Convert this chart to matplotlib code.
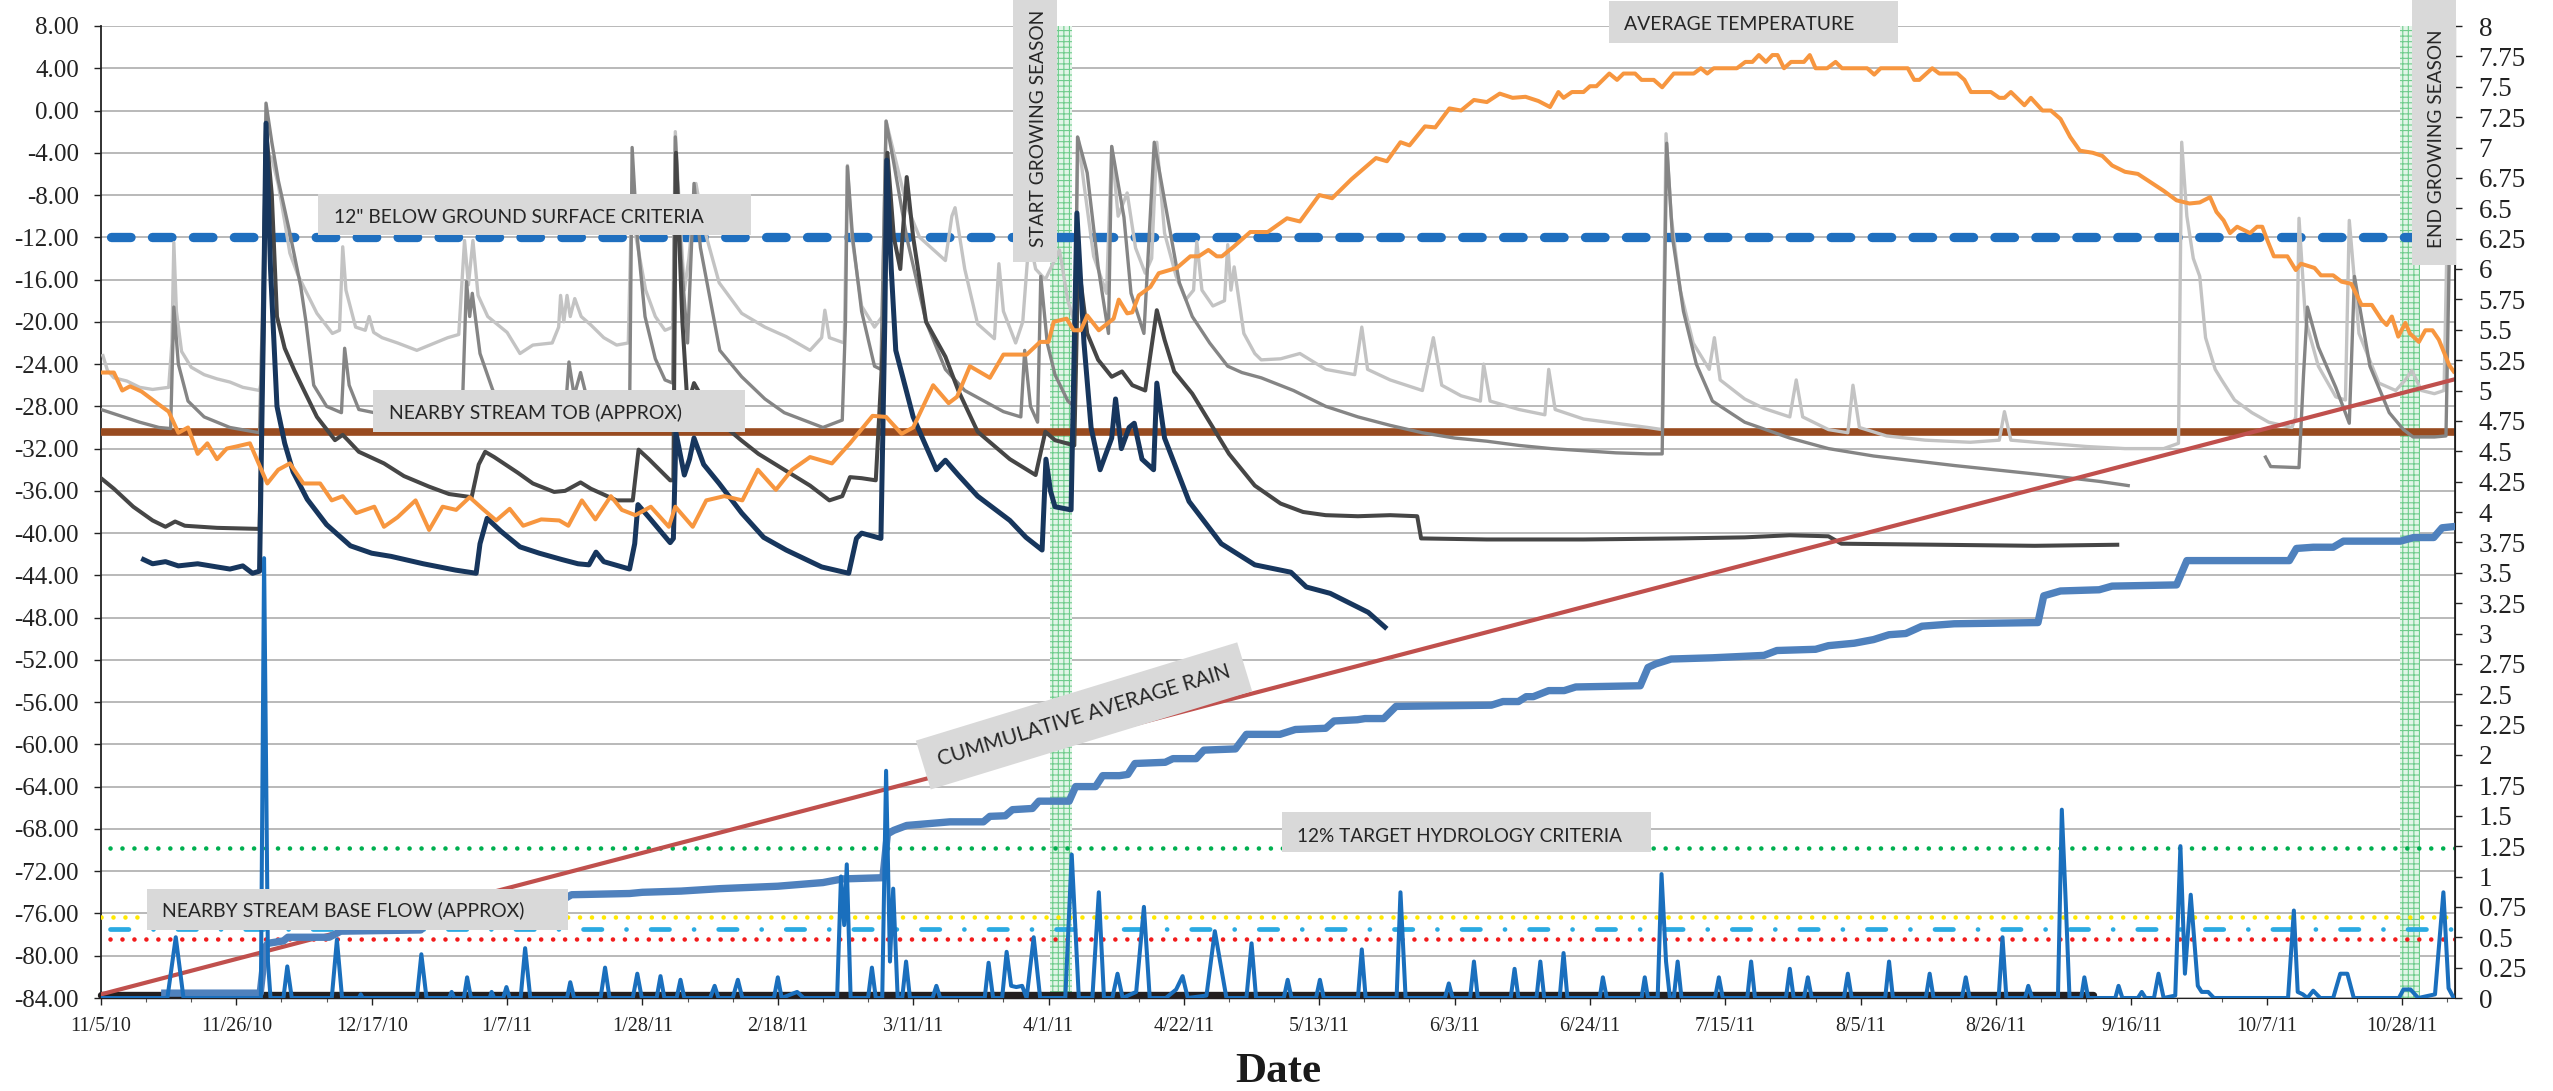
import numpy as np
import matplotlib
matplotlib.use("Agg")
import matplotlib.pyplot as plt
from matplotlib.patches import Rectangle

# x = days after 11/5/10
date_labels = ["11/5/10", "11/26/10", "12/17/10", "1/7/11", "1/28/11", "2/18/11",
               "3/11/11", "4/1/11", "4/22/11", "5/13/11", "6/3/11", "6/24/11",
               "7/15/11", "8/5/11", "8/26/11", "9/16/11", "10/7/11", "10/28/11"]

# reference levels (left axis, inches)
below_ground_12in = -12.0
stream_tob = -30.4
target_12pct = -69.8
base_flow_yellow = -76.3
base_flow_blue = -77.5
base_flow_red = -78.4
dry_level = -83.7
dry_days = [0, 309]
start_season = (147.3, 150.7)
end_season = (356.6, 359.8)

# well readings (day, inches) - left axis
well1 = [(0.3,-23.2),(1.0,-24.6),(2,-25.3),(4,-25.6),(6,-26.2),(8,-26.4),(10.5,-26.2),(11.0,-22),(11.3,-12.5),
         (11.7,-19),(12.5,-22.8),(14,-24.3),(16,-25.0),(18,-25.4),(20,-25.7),(22,-26.2),(24.6,-26.5),(25.2,-24.5),
         (25.7,-4.0),(26.5,-4.5),(27.5,-7.0),(28.5,-10.5),(29.3,-13.5),(30.5,-15.5),(31.7,-17.0),(33.5,-19.2),
         (35.9,-21.1),(37.0,-20.8),(37.5,-12.9),(38.0,-17),(39.5,-20.5),(41.0,-20.8),(41.6,-19.5),(42.3,-21),
         (43.6,-21.5),(46,-22.0),(49,-22.7),(51,-22.2),(53.8,-21.5),(55.5,-21.2),(56.4,-12.3),(57.0,-16.5),
         (57.7,-12.3),(58.5,-17.5),(60,-19.5),(63,-21.0),(65,-23.0),(67,-22.2),(70,-22.0),(71,-20.5),(71.3,-17.5),
         (71.8,-20),(72.3,-17.5),(72.8,-19.5),(73.5,-17.8),(74.5,-19.5),(76,-20.3),(78,-21.5),(80,-22.2),(81.8,-22),
         (82.4,-6.8),(83.0,-12),(84.5,-17),(86,-19.5),(87.5,-20.8),(88.7,-20.5),(89.1,-2.0),(89.8,-10),(90.5,-17),
         (91.2,-14),(92.3,-6.9),(93.5,-11),(95.9,-16.3),(99.4,-19.2),(103,-20.5),(106.3,-21.4),(110,-22.7),
         (111.8,-21.5),(112.3,-18.9),(113,-21.5),(115.3,-22.0),(115.8,-5.2),(116.5,-12),(118,-18.5),(120,-20.5),
         (121.2,-19.5),(121.8,-1.0),(123,-4),(125,-9),(127,-12.0),(131,-14.2),(132,-10),(132.5,-9.2),(134,-15),
         (136,-20.2),(138.6,-21.6),(139.3,-14.5),(140,-19),(141.9,-22.0),(143,-20),(144,-12),(145,-15),(146.5,-16),
         (148.7,-13.2),(150,-18),(151.0,-20),(151.6,-2.6),(152.5,-7),(154,-13.8),(156,-17.3),(156.8,-3.4),
         (157.8,-10),(159.2,-7.8),(160.5,-13),(162,-15.4),(163.0,-14),(163.8,-3.0),(165,-11.6),(166.8,-15.7),
         (168.3,-17.9),(169.5,-17),(170,-12.4),(170.8,-17),(172.5,-18.5),(174.3,-18),(174.8,-12.7),(175.3,-17),
         (175.8,-14.8),(177.3,-21.1),(179,-23.0),(180,-23.6),(183,-23.5),(186,-23.0),(190,-24.5),(194.5,-25),
         (195.6,-20.5),(196.5,-24.5),(200,-25.5),(205,-26.5),(206.7,-21.5),(208,-26),(211,-27),(214,-27.5),
         (214.5,-24),(215.5,-27.5),(220,-28.3),(224,-28.8),(224.6,-24.5),(225.6,-28.3),(230,-29.2),(235,-29.6),
         (240,-30.0),(242.2,-30.2),(242.8,-2.2),(243.6,-10),(245,-17),(247,-22),(249.5,-24.5),(250.3,-21.5),
         (251.2,-25.5),(255,-27.3),(258,-28.2),(262,-29),(263,-25.5),(264,-29),(268,-30.2),(271,-30.5),
         (271.8,-26),(272.8,-30),(277,-30.8),(283,-31.2),(290,-31.4),(294.5,-31.2),(295.3,-28.5),(296.3,-31.2),
         (302,-31.5),(308,-31.8),(314,-32),(320,-32),(322.3,-31.5),(322.8,-3.0),(323.6,-10),(324.6,-14),
         (325.6,-15.7),(326.5,-21.5),(328,-24.5),(329,-25.5),(331,-27.4),(333.7,-28.6),(336.3,-29.5),
         (339.9,-30.0),(340.5,-29),(341,-10.2),(342,-19.8),(344,-24.2),(346.7,-27.1),(348.2,-27.4),(348.8,-10.4),
         (350.3,-21.1),(353.4,-25.8),(356,-26.5),(357.5,-25.5),(358.5,-24.6),(360,-26.5),(362,-26.8),
         (363.5,-26.5),(364.2,-5),(365,-12)]

well2a = [(0,-28.3),(3,-28.9),(6,-29.5),(9,-30.0),(10.8,-30.1),(11.3,-18.6),(12,-24),(13.5,-27.5),(16,-29.0),
          (20,-30),(24.6,-30.5),(25.2,-15),(25.6,0.7),(26.5,-3),(27.5,-6.6),(29.3,-11.6),(31,-16.7),(31.8,-20),
          (33,-26),(35,-28),(37.3,-28.6),(37.8,-22.5),(38.5,-26),(40,-28.3),(44,-28.8),(50,-29.2),(56,-29.3),
          (56.7,-16.2),(57.2,-19.5),(57.6,-17.3),(58.8,-23),(60.8,-26.5),(63,-27.8),(66,-28.5),(72,-28.8),
          (72.6,-23.8),(73.4,-27),(74.4,-24.8),(75.5,-27.5),(77,-28.8),(82,-29.0),(82.4,-3.5),(83.2,-12),
          (84.4,-19.5),(86,-23.5),(87.5,-25.5),(88.7,-25.8),(89.1,-2.5),(90,-14),(91,-22),(92,-6.9),(93,-13),
          (96,-22.7),(99.4,-25.2),(103,-27.3),(106,-28.6),(112,-30),(115,-29.3),(115.5,-20),(115.8,-5.3),
          (116.6,-12),(118,-19),(120,-24.2),(121,-24.5),(121.8,-1.0),(123,-5),(125,-12),(128,-20),(131,-24.5),
          (134,-26.5),(137,-27.5),(140,-28.5),(142.7,-29),(143.3,-22.7),(144.2,-28),(145.3,-29.5),(145.8,-15.7),
          (146.8,-22),(148,-25),(150,-27.5),(151,-28),(151.5,-2.5),(153,-5.9),(154.7,-14.8),(156.3,-21.1),
          (156.8,-3.4),(158.7,-10.1),(159.8,-17.3),(161.8,-21.1),(163.4,-3.0),(165,-8.5),(167.3,-16.3),
          (169.3,-19.5),(172,-22),(174.8,-24.2),(177,-24.8),(180,-25.3),(185,-26.5),(190,-28),(195,-29),
          (200,-29.8),(205,-30.5),(210,-31),(215,-31.3),(220,-31.7),(225,-32),(230,-32.2),(235,-32.4),(240,-32.5),
          (242.2,-32.5),(242.9,-3.1),(243.8,-12),(245.5,-19),(247.5,-24),(250,-27.5),(255,-29.5),(262,-31),
          (268,-32),(275,-32.7),(287.5,-33.6),(300,-34.4),(310,-35.1),(314.5,-35.5)]
well2b = [(335.8,-32.8),(336.6,-33.7),(341,-33.8),(341.7,-25),(342.3,-18.6),(344,-22.4),(346.7,-26.2),
          (348.8,-29.6),(349.6,-15.7),(352,-24.2),(355,-28.6),(357.2,-30.2),(358.7,-30.9),(362,-30.9),
          (363.8,-30.8),(364.3,-14)]

well3 = [(0,-34.8),(2,-35.8),(5,-37.5),(8,-38.8),(10,-39.4),(11.5,-38.9),(13,-39.3),(18,-39.5),(24.6,-39.6),
         (25.2,-20),(25.6,-1.8),(26.5,-8),(27.3,-19.5),(28.5,-22.5),(30,-24.6),(31.5,-26.5),(33.5,-29),
         (36.3,-31.2),(37.5,-30.7),(38.3,-31.2),(40,-32.3),(43.9,-33.4),(47,-34.6),(50.9,-35.6),(54,-36.3),
         (57.5,-36.6),(58.6,-33.5),(59.6,-32.3),(61,-32.8),(64.7,-34.3),(67,-35.3),(70.3,-36.1),(72,-36.0),
         (74.4,-35.2),(76,-35.8),(80,-36.9),(82.5,-36.9),(83.4,-32.1),(85,-33),(88.3,-35),(88.8,-35),(89.2,-4),
         (90.2,-20),(91,-28),(92,-25.8),(94,-28),(96,-29.5),(99.3,-31.2),(102,-32.5),(106,-34),(110,-35.5),
         (113,-36.9),(115,-36.5),(116.2,-34.7),(118,-34.8),(120.2,-35),(121.5,-20),(122,-4.0),(123,-12),
         (124,-15),(125,-6.3),(126,-12),(128,-20),(131,-23.3),(133,-26.5),(136,-30.4),(141,-33),(145,-34.5),
         (146.5,-30.4),(148,-31.2),(151,-31.7),(151.6,-14.3),(153,-21.1),(154.7,-23.6),(156.8,-25.2),
         (158.4,-24.7),(160,-26),(162,-26.5),(163.8,-18.9),(165,-21.7),(166.5,-24.7),(169.3,-26.8),(172,-29.5),
         (175,-32.5),(179,-35.5),(183,-37.2),(186.5,-38.0),(190,-38.3),(195,-38.4),(200,-38.3),(204.2,-38.4),
         (204.8,-40.5),(215,-40.6),(230,-40.6),(245,-40.5),(255,-40.4),(262,-40.2),(268,-40.3),(270,-41.0),
         (285,-41.1),(300,-41.2),(312.8,-41.1)]

well4 = [(6.6,-42.5),(8,-42.9),(10,-42.7),(12,-43.1),(15,-42.9),(18,-43.2),(20,-43.4),(22,-43.1),(23.5,-43.8),
         (24.6,-43.6),(25.2,-20),(25.6,-1.2),(26.3,-15),(27.3,-28),(28.5,-31.5),(29.8,-34.2),(32,-36.8),
         (35,-39.2),(38.7,-41.2),(42,-41.9),(45,-42.2),(50,-42.9),(55,-43.5),(58.2,-43.8),(58.8,-41),
         (59.9,-38.6),(62,-39.8),(65,-41.3),(68,-41.9),(71.5,-42.5),(74,-42.9),(75.7,-43),(76.8,-41.8),
         (78,-42.7),(82,-43.4),(82.8,-41),(83.3,-37.3),(85,-38.5),(88.3,-40.9),(88.8,-40.5),(89.2,-30.5),
         (90.5,-34.5),(91.3,-33),(92,-31),(93.5,-33.5),(95.9,-35.3),(99.4,-38.1),(102.8,-40.4),(106.3,-41.6),
         (111.8,-43.2),(116,-43.8),(117.2,-40.5),(118,-40.0),(121,-40.5),(121.6,-20),(121.9,-4.7),(122.6,-15),
         (123.3,-22.7),(126,-29),(129.6,-34),(131,-33.1),(133,-34.5),(136,-36.5),(141,-38.8),(143.5,-40.4),
         (146,-41.6),(146.6,-33),(147.3,-36),(148,-37.5),(150.5,-37.8),(151.4,-9.7),(152.5,-22),(153.6,-30),
         (155,-34),(156.8,-31),(157.4,-27.3),(158.3,-32),(159.5,-30),(160.3,-29.6),(161.5,-33),(163.3,-34),
         (163.8,-25.8),(165,-31),(168.8,-37),(173.8,-41),(179,-43),(184.6,-43.7),(187,-45.1),(190.7,-45.7),
         (196.6,-47.5),(199.2,-48.9)]

avg_temp = [(0,-24.8),(2,-24.8),(3.3,-26.5),(4.5,-26.1),(6.3,-26.6),(8.7,-27.7),(10.5,-28.5),(12,-30.5),
            (13.5,-30),(15,-32.5),(16.5,-31.5),(18,-33),(19.5,-32),(21,-31.8),(23.1,-31.5),(25.8,-35.3),
            (27.5,-34),(29.3,-33.4),(31.4,-35.3),(34,-35.3),(35.8,-36.9),(37.5,-36.5),(39.6,-38.1),(42.4,-37.5),
            (43.9,-39.4),(46,-38.5),(48.8,-36.9),(50.9,-39.7),(53,-37.5),(55.1,-37.8),(57.2,-36.6),(59.2,-37.7),
            (61.3,-38.8),(63.4,-37.7),(65.5,-39.3),(68.3,-38.7),(71.1,-38.8),(72.5,-39.3),(74.6,-36.9),
            (76.7,-38.7),(79.1,-36.5),(80.8,-37.8),(82.9,-38.3),(85.3,-37.5),(88.1,-39.4),(89.1,-37.5),
            (91.8,-39.4),(93.9,-36.9),(96.7,-36.5),(99.5,-36.9),(101.9,-34.0),(104.7,-35.9),(107.2,-34.0),
            (110,-32.8),(113.4,-33.4),(116.2,-31.5),(119.7,-28.9),(121.8,-29.0),(124.2,-30.6),(126,-30.0),
            (129.1,-26.0),(131.5,-27.7),(132.8,-27.1),(134.8,-24.2),(137.9,-25.3),(140,-23.1),(143.6,-23.1),
            (145.7,-21.9),(147,-21.9),(147.8,-20.0),(149.8,-19.7),(150.9,-20.8),(152,-20.8),(153,-19.4),
            (154.8,-20.8),(157.1,-19.7),(157.9,-17.9),(159.2,-19.2),(160,-19.1),(161,-17.5),(162.8,-16.7),
            (164.1,-15.4),(166.9,-14.9),(169,-13.8),(170.3,-13.8),(171.8,-13.2),(173.1,-13.8),(173.9,-13.8),
            (175.7,-12.9),(178.3,-11.5),(181,-11.5),(184,-10.2),(186,-10.5),(189,-8.0),(191,-8.3),(194,-6.5),
            (197.8,-4.5),(199.5,-4.8),(201.6,-3.0),(203,-3.3),(205.4,-1.5),(207,-1.6),(209.2,0.2),(211,0.0),
            (213,1.0),(215,0.8),(217,1.6),(219,1.2),(221,1.3),(223,0.9),(224.8,0.33),(226.1,1.75),(226.9,1.2),
            (228.2,1.75),(230,1.75),(231,2.3),(232,2.3),(234,3.5),(235.2,2.9),(236.2,3.5),(238,3.5),(239,2.9),
            (240.9,2.9),(242.2,2.2),(244,3.5),(247.1,3.5),(248.2,4.0),(249.2,3.5),(250.2,4.0),(253.8,4.0),
            (255.1,4.6),(256.2,4.6),(257.2,5.25),(258.3,4.6),(259.3,5.25),(260.1,5.25),(261.1,4.0),(262.2,4.6),
            (264.2,4.6),(265.1,5.25),(266,4.0),(267.8,4.0),(269.1,4.6),(270.1,4.0),(274,4.0),(275.1,3.4),
            (276.1,4.0),(280.3,4.0),(281.3,2.9),(282.1,2.9),(284.1,4.0),(285.2,3.5),(288,3.5),(289.1,2.9),
            (290.1,1.75),(293.2,1.75),(294.5,1.2),(295.3,1.2),(296.3,1.75),(298.4,0.5),(299.4,1.2),(301.2,0.0),
            (302.5,0.0),(304,-0.8),(305.5,-2.5),(307,-3.8),(309,-4.0),(310.5,-4.3),(312,-5.2),(314,-5.8),
            (316,-6.0),(318,-6.8),(320,-7.6),(322,-8.5),(324,-8.8),(325.6,-8.7),(327.2,-8.2),(328.2,-9.6),
            (329.3,-10.4),(330.3,-11.6),(331.4,-11.0),(333.4,-11.6),(334.5,-11.0),(335.3,-11.0),(336.1,-12.3),
            (337.1,-13.8),(339.2,-13.8),(340.5,-15.1),(341.3,-14.5),(343.4,-14.9),(344.4,-15.6),(346.3,-15.6),
            (347.6,-16.2),(349.1,-16.4),(350.7,-18.4),(352.3,-18.4),(353.8,-19.8),(354.6,-20.3),(355.4,-19.5),
            (356.4,-21.4),(357.5,-20.1),(358.2,-21.1),(359.6,-21.9),(360.6,-20.8),(361.7,-20.8),(362.7,-21.7),
            (364.3,-24.1),(365,-24.7)]

# rain (day, inches) - right axis
cum_avg_rain = [(0, 0.03), (365, 5.09)]

cum_rain = [(9.9,0.04),(24.7,0.04),(25.5,0.42),(25.9,0.45),(28.3,0.47),(29,0.5),(35.4,0.5),(37.2,0.55),
            (49.6,0.56),(51,0.66),(58,0.68),(59,0.71),(64,0.72),(66,0.80),(72,0.82),(73,0.85),(82,0.86),
            (84,0.87),(90,0.88),(96,0.9),(105,0.92),(112,0.95),(115,0.98),(121.3,0.99),(122,1.35),(123,1.38),
            (125,1.42),(131.7,1.45),(136.9,1.45),(137.9,1.495),(140.3,1.5),(141.4,1.55),(144.5,1.56),
            (145.5,1.62),(150.2,1.62),(151.2,1.74),(154.3,1.74),(155.4,1.83),(158,1.83),(159.3,1.84),
            (160.4,1.93),(165.1,1.94),(166.3,1.97),(169.9,1.97),(171.1,2.04),(176,2.05),(177.7,2.17),
            (182.9,2.17),(185.3,2.21),(190,2.22),(191.3,2.28),(194.9,2.29),(196.1,2.30),(199,2.30),(200.9,2.40),
            (215.7,2.41),(217.5,2.44),(219.9,2.44),(221.1,2.48),(222.2,2.48),(224.6,2.53),(227,2.53),
            (228.8,2.56),(238.8,2.57),(240,2.72),(241.2,2.75),(243.6,2.79),(250,2.80),(258,2.82),(260,2.86),
            (266,2.87),(268,2.90),(272,2.92),(275,2.95),(277.4,2.99),(280,3.0),(282.5,3.06),(287.5,3.08),
            (300.5,3.09),(301.4,3.31),(304,3.35),(310,3.36),(312,3.39),(322,3.40),(323.6,3.60),(339.5,3.60),
            (340.6,3.70),(343.2,3.71),(346.3,3.71),(347.9,3.76),(356.7,3.76),(358.8,3.79),(361.9,3.79),
            (363.2,3.87),(365,3.88)]

daily_rain = [(0,0),(10.3,0),(11.6,0.5),(12.8,0),(24.8,0),(25.3,3.62),(25.9,0.3),(26.3,0),(28.3,0),(28.9,0.26),
              (29.6,0),(35.8,0),(36.6,0.48),(37.4,0),(40,0),(40.3,0.03),(40.6,0),(49,0),(49.7,0.36),(50.5,0),
              (54,0),(54.4,0.05),(54.8,0),(56.3,0),(56.8,0.17),(57.4,0),(60.3,0),(60.6,0.05),(61,0),(62.4,0),
              (62.9,0.09),(63.4,0),(65.1,0),(65.8,0.41),(66.6,0),(72.3,0),(72.8,0.13),(73.4,0),(77.5,0),
              (78.2,0.25),(78.9,0),(82.5,0),(83.2,0.2),(83.9,0),(86.2,0),(86.8,0.18),(87.4,0),(89.3,0),
              (89.9,0.15),(90.5,0),(94.5,0),(95.2,0.1),(95.8,0),(98,0),(98.8,0.15),(99.5,0),(104.4,0),(105,0.17),
              (105.6,0),(108,0.05),(109,0),(114.2,0),(114.8,1.0),(115.3,0.6),(115.7,1.1),(116.3,0),(119,0),
              (119.6,0.25),(120.2,0),(121.2,0),(121.8,1.87),(122.4,0.3),(122.9,0.9),(123.6,0),(124.3,0),
              (124.9,0.3),(125.5,0),(129,0),(129.6,0.1),(130.2,0),(137.1,0),(137.7,0.29),(138.4,0),(139.8,0),
              (140.5,0.38),(141.2,0.1),(142,0.09),(142.9,0.10),(143.6,0),(144.7,0.5),(145.7,0),(149.6,0),
              (150.6,1.18),(151.7,0),(153.8,0),(154.8,0.87),(155.6,0),(156.9,0),(157.7,0.2),(158.5,0),
              (160.6,0.05),(161.8,0.75),(162.7,0),(165.2,0),(166.8,0.07),(167.8,0.18),(168.6,0),(171.5,0.02),
              (172.8,0.55),(174.6,0),(177.7,0),(178.5,0.45),(179.2,0),(183.5,0),(184.1,0.15),(184.7,0),
              (188.5,0),(189.1,0.15),(189.7,0),(195,0),(195.6,0.4),(196.2,0),(201,0),(201.6,0.87),(202.4,0),
              (208.5,0),(209.1,0.12),(209.7,0),(212.4,0),(213,0.3),(213.6,0),(218.7,0),(219.3,0.24),(219.9,0),
              (222.7,0),(223.3,0.3),(223.9,0),(226.3,0),(226.9,0.37),(227.5,0),(232.5,0),(233,0.17),(233.6,0),
              (239,0),(239.5,0.17),(240,0),(241.5,0),(242.1,1.02),(242.8,0.3),(243.4,0),(244,0),(244.6,0.3),
              (245.2,0),(250.4,0),(251,0.17),(251.6,0),(255.4,0),(256,0.3),(256.6,0),(261.4,0),(262,0.24),
              (262.6,0),(264.2,0),(264.8,0.17),(265.4,0),(270.4,0),(271,0.2),(271.6,0),(276.8,0),(277.4,0.3),
              (278,0),(283.1,0),(283.7,0.2),(284.3,0),(288.7,0),(289.3,0.17),(289.9,0),(294.4,0),(295,0.5),
              (295.6,0),(298.5,0),(299,0.1),(299.6,0),(303.6,0),(304.2,1.55),(304.8,0.8),(305.4,0),(307.2,0),
              (307.7,0.17),(308.3,0),(312.5,0),(313,0.1),(313.6,0),(316,0),(316.6,0.05),(317.2,0),(318.5,0),
              (319.2,0.2),(320,0),(321.8,0.02),(322.6,1.25),(323.3,0.2),(324.2,0.85),(325.3,0.1),(325.9,0.05),
              (326.9,0.05),(327.8,0),(339.3,0),(340.2,0.72),(340.8,0.05),(341.6,0.03),(342.3,0.0),(343.2,0.06),
              (344.3,0),(346.3,0),(347.4,0.2),(348.5,0.2),(349.5,0),(356.5,0),(357.2,0.07),(358.3,0.07),
              (359.5,0),(362.1,0.03),(363.4,0.87),(364.2,0.08),(365,0)]

W, H = 2553, 1091
plt.rcParams['font.family'] = 'Liberation Serif'
plt.rcParams['axes.unicode_minus'] = False
plt.rcParams['hatch.linewidth'] = 0.8

fig = plt.figure(figsize=(W / 100, H / 100), dpi=100)
ax = fig.add_axes([101 / W, 1 - 998 / H, (2455 - 101) / W, (998 - 26) / H])
ax2 = ax.twinx()

ax.set_xlim(0, 365.2)
ax.set_ylim(-84, 8)
ax2.set_ylim(0, 8)

ax.set_yticks(np.arange(-84, 8.1, 4))
ax.set_yticklabels(["%.2f" % v for v in np.arange(-84, 8.1, 4)])
ax2.set_yticks(np.arange(0, 8.01, 0.25))
ax2.set_yticklabels(["%g" % v for v in np.arange(0, 8.01, 0.25)])
ax.set_xticks(np.arange(len(date_labels)) * 21)
ax.set_xticklabels(date_labels)
ax.set_xticks(np.arange(0, 366, 7), minor=True)

ax.yaxis.grid(True, color='#a6a6a6', lw=1.1)
ax.set_axisbelow(True)
ax.tick_params(axis='y', length=5, width=1, labelsize=18, pad=11, colors='#222222')
ax2.tick_params(axis='y', length=5, width=1, labelsize=19.5, pad=12, colors='#222222')
ax.tick_params(axis='x', which='major', length=5, width=1, labelsize=14.5, pad=9, colors='#222222')
ax.tick_params(axis='x', which='minor', length=3, width=0.8, colors='#555555')

for s in ['top']:
    ax.spines[s].set_visible(False)
for s in ['top', 'left', 'bottom']:
    ax2.spines[s].set_visible(False)
ax.spines['left'].set_color('#222222')
ax.spines['bottom'].set_color('#222222')
ax2.spines['right'].set_color('#222222')
ax.spines['left'].set_linewidth(1.3)
ax2.spines['right'].set_linewidth(1.3)

# growing season bands (light green dotted texture)
for span in [start_season, end_season]:
    ax.axvspan(span[0], span[1], facecolor='#e2f5e8', edgecolor='#6fcc8c', hatch='+++', lw=0, zorder=1)

# reference lines
ax.plot([1.5, 365.2], [below_ground_12in] * 2, color='#1f6fbf', lw=6.7, ls=(0, (2.1, 2.3)),
        dash_capstyle='round', zorder=3)
ax.plot([0, 365.2], [stream_tob] * 2, color='#984b20', lw=5.5, zorder=3)
dots = (0, (0.01, 2.6))
ax.plot([1.4, 365.2], [target_12pct] * 2, color='#00b050', lw=3.3, ls=dots, dash_capstyle='round', zorder=3)
ax.plot([0, 365.2], [base_flow_yellow] * 2, color='#ffe800', lw=3.3, ls=dots, dash_capstyle='round', zorder=3)
ax.plot([1.4, 365.2], [base_flow_blue] * 2, color='#2aaae2', lw=3.4, ls=(0, (3.9, 5.2, 0.01, 5.2)),
        dash_capstyle='round', zorder=3)
ax.plot([1.4, 365.2], [base_flow_red] * 2, color='#f21c1c', lw=3.3, ls=dots, dash_capstyle='round', zorder=3)
ax.plot(dry_days, [dry_level] * 2, color='#231f20', lw=5.3, solid_capstyle='round', zorder=3, clip_on=False)

def line(a, data, color, lw, z):
    d = np.array(data)
    a.plot(d[:, 0], d[:, 1], color=color, lw=lw, zorder=z, solid_joinstyle='round')

line(ax, well1, '#c3c3c3', 2.4, 4)
line(ax, well2a, '#858585', 2.4, 5)
line(ax, well2b, '#858585', 2.4, 5)
line(ax, well3, '#464646', 2.9, 6)
line(ax, well4, '#17365d', 3.6, 7)
line(ax, avg_temp, '#f7963f', 2.9, 8)

line(ax2, cum_avg_rain, '#c0504d', 3.0, 2)
line(ax2, cum_rain, '#4f81bd', 5.3, 3)
line(ax2, daily_rain, '#1a6fbd', 2.9, 4)

renderer = fig.canvas.get_renderer()

def fit(t, target, along='x'):
    bb = t.get_window_extent(renderer)
    size = bb.width if along == 'x' else bb.height
    t.set_fontsize(t.get_fontsize() * target / size)

def label_box(x0, x1, y0, y1, text, tx, ty, width_px, rot=0):
    ax2.add_patch(Rectangle((x0, y1), x1 - x0, y0 - y1, transform=ax.transData, facecolor='#d9d9d9',
                            edgecolor='none', zorder=10, clip_on=False))
    t = ax2.text(tx, ty, text, transform=ax.transData, fontsize=16, family='Lato', color='#262626',
                 ha='left', va='baseline', rotation=rot, rotation_mode='anchor', zorder=11, clip_on=False)
    fit(t, width_px, 'y' if rot == 90 else 'x')

label_box(33.7, 100.9, -7.9, -11.78, '12" BELOW GROUND SURFACE CRITERIA', 36.2, -10.65, 370)
label_box(42.2, 99.9, -26.45, -30.43, 'NEARBY STREAM TOB (APPROX)', 44.7, -29.1, 293)
label_box(234.0, 278.8, 10.37, 6.39, 'AVERAGE TEMPERATURE', 236.3, 7.62, 230)
label_box(141.5, 148.3, 10.46, -14.34, 'START GROWING SEASON', 146.3, -12.9, 237, rot=90)
label_box(358.6, 365.4, 10.46, -14.6, 'END GROWING SEASON', 363.2, -13.0, 218, rot=90)
label_box(183.2, 240.5, -66.4, -70.15, '12% TARGET HYDROLOGY CRITERIA', 185.6, -69.2, 325)
label_box(7.1, 72.4, -73.7, -77.6, 'NEARBY STREAM BASE FLOW (APPROX)', 9.4, -76.3, 362)

t = ax2.text(152.5, -57.3, 'CUMMULATIVE AVERAGE RAIN', transform=ax.transData, fontsize=16, family='Lato',
             color='#262626', ha='center', va='center', rotation_mode='anchor', zorder=11,
             bbox=dict(boxstyle='square,pad=0.75', facecolor='#d9d9d9', edgecolor='none'))
fit(t, 305)
t.set_rotation(17)

fig.text((101 + 2455) / 2 / W, 1 - 1082 / H, 'Date', ha='center', va='baseline', fontsize=31,
         fontweight='bold', family='Liberation Serif', color='#1a1a1a')

fig.savefig('out.png', dpi=100)
